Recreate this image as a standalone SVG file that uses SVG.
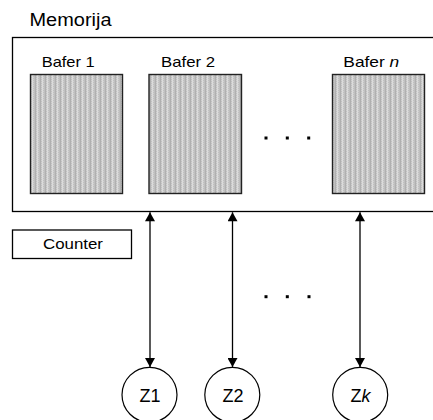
<svg xmlns="http://www.w3.org/2000/svg" width="433" height="420" viewBox="0 0 433 420">
  <style>
    text { font-family: "Liberation Sans", Arial, sans-serif; fill: #000; }
    .frame { fill: #fff; stroke: #000; stroke-width: 1.3; }
    .buf { fill: url(#hatch); stroke: #222; stroke-width: 1.4; }
    .link { stroke: #000; stroke-width: 1.3; fill: none; marker-start: url(#tipUp); marker-end: url(#tipDown); }
    .node { fill: #fff; stroke: #000; stroke-width: 1.2; }
    .dot { fill: #000; }
  </style>
  <defs>
    <!-- fine vertical stripe fill for the buffers -->
    <pattern id="hatch" width="5" height="2" patternUnits="userSpaceOnUse">
      <rect width="5" height="2" fill="#c0c0c0"/>
      <rect x="0" width="1" height="2" fill="#b0b0b0"/>
      <rect x="2" width="1" height="2" fill="#dcdcdc"/>
      <rect x="1" y="0" width="1" height="1" fill="#d0d0d0"/>
      <rect x="3" y="1" width="1" height="1" fill="#d0d0d0"/>
    </pattern>
    <marker id="tipUp" viewBox="0 0 10 10" refX="5" refY="0" markerWidth="10" markerHeight="10" markerUnits="userSpaceOnUse" orient="0">
      <path d="M5 0 L10 9 L0 9 Z" fill="#000"/>
    </marker>
    <marker id="tipDown" viewBox="0 0 10 10" refX="5" refY="10" markerWidth="10" markerHeight="10" markerUnits="userSpaceOnUse" orient="0">
      <path d="M0 1 L10 1 L5 10 Z" fill="#000"/>
    </marker>
  </defs>

  <g id="memorija">
    <text x="29.5" y="26" font-size="17.5" textLength="82" lengthAdjust="spacingAndGlyphs">Memorija</text>
    <rect class="frame" x="12.5" y="37.5" width="440" height="174"/>
  </g>

  <g id="bafer1">
    <text x="41.7" y="66.5" font-size="14.8" textLength="53" lengthAdjust="spacingAndGlyphs">Bafer 1</text>
    <rect class="buf" x="30.5" y="74.5" width="92" height="119"/>
  </g>
  <g id="bafer2">
    <text x="161" y="66.5" font-size="14.8" textLength="54" lengthAdjust="spacingAndGlyphs">Bafer 2</text>
    <rect class="buf" x="149" y="74.5" width="92.5" height="119"/>
  </g>
  <g id="baferN">
    <text x="343.3" y="66.5" font-size="14.8" textLength="56" lengthAdjust="spacingAndGlyphs">Bafer <tspan font-style="italic">n</tspan></text>
    <rect class="buf" x="332.5" y="74.5" width="92" height="119"/>
  </g>

  <g id="dotsTop">
    <rect class="dot" x="264.5" y="136.5" width="3" height="3"/>
    <rect class="dot" x="285.8" y="136.5" width="3" height="3"/>
    <rect class="dot" x="307.2" y="136.5" width="3" height="3"/>
  </g>

  <g id="counter">
    <rect class="frame" x="12.5" y="230" width="119" height="28.5"/>
    <text x="73" y="249" font-size="15.5" text-anchor="middle" textLength="60" lengthAdjust="spacingAndGlyphs">Counter</text>
  </g>

  <g id="dotsBottom">
    <rect class="dot" x="264.5" y="295.2" width="3" height="3"/>
    <rect class="dot" x="285.8" y="295.2" width="3" height="3"/>
    <rect class="dot" x="307.5" y="295.2" width="3" height="3"/>
  </g>

  <g id="connectors">
    <line class="link" x1="150" y1="212.3" x2="150" y2="367"/>
    <line class="link" x1="232.5" y1="212.3" x2="232.5" y2="367"/>
    <line class="link" x1="360" y1="212.3" x2="360" y2="367"/>
  </g>

  <g id="z1">
    <circle class="node" cx="149.5" cy="394.8" r="27.5"/>
    <text x="150" y="401.5" font-size="18" text-anchor="middle">Z1</text>
  </g>
  <g id="z2">
    <circle class="node" cx="232.3" cy="394.8" r="27.5"/>
    <text x="233" y="401.5" font-size="18" text-anchor="middle">Z2</text>
  </g>
  <g id="zk">
    <circle class="node" cx="360.2" cy="394.8" r="27.5"/>
    <text x="360.5" y="401.5" font-size="18" text-anchor="middle">Z<tspan font-style="italic">k</tspan></text>
  </g>
</svg>
